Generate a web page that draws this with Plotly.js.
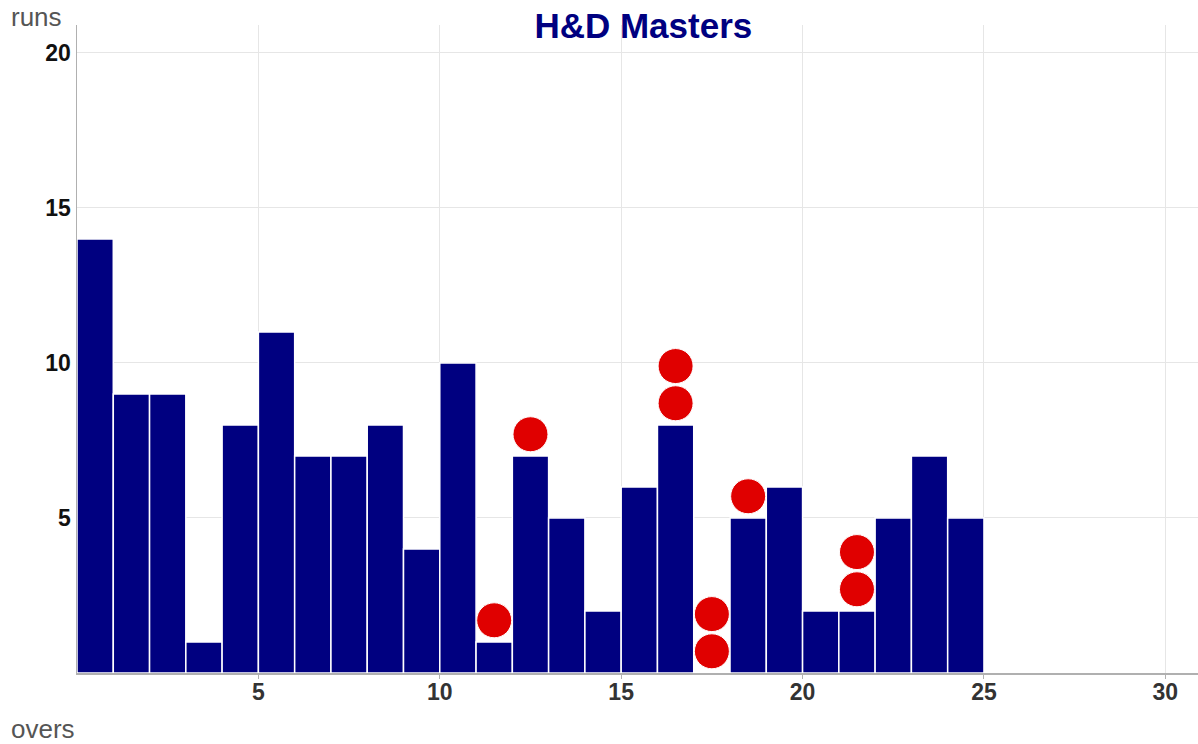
<!DOCTYPE html>
<html>
<head>
<meta charset="utf-8">
<script src="https://cdn.plot.ly/plotly-3.0.1.min.js"></script>
<style>html,body{margin:0;padding:0;background:#fff}#chart{width:1198px;height:744px}</style>
</head>
<body>
<div id="chart"></div>
<script>
// Runs per over
const overs = [0.5,1.5,2.5,3.5,4.5,5.5,6.5,7.5,8.5,9.5,10.5,11.5,12.5,13.5,14.5,15.5,16.5,17.5,18.5,19.5,20.5,21.5,22.5,23.5,24.5];
const runs = [14,9,9,1,8,11,7,7,8,4,10,1,7,5,2,6,8,0,5,6,2,2,5,7,5];
// Wickets (dots stacked above the over's bar)
const wicketOvers = [11.5,12.5,16.5,16.5,17.5,17.5,18.5,21.5,21.5];
const wicketY = [1.7,7.7,8.7,9.9,0.7,1.9,5.7,2.7,3.9];
const xTicks = [5,10,15,20,25,30];
const yTicks = [5,10,15,20];
const chartTitle = "H&D Masters";

const font = "Liberation Sans, Arial, Helvetica, sans-serif";

const traces = [
  {type:'bar', x:overs, y:runs, width:1,
   marker:{color:'#000080', line:{color:'#ffffff', width:1.5}},
   hoverinfo:'skip'},
  {type:'scatter', mode:'markers', x:wicketOvers, y:wicketY,
   marker:{color:'#e00000', size:35, line:{color:'#ffffff', width:1}},
   hoverinfo:'skip', cliponaxis:false}
];

const layout = {
  width:1198, height:744,
  margin:{l:77, r:0, t:25, b:71},
  paper_bgcolor:'#fff', plot_bgcolor:'#fff',
  showlegend:false,
  bargap:0,
  title:{text:'<b>'+chartTitle+'</b>', font:{family:font, size:35, color:'#000080'},
         x:0.537, xanchor:'center', y:0.965, yanchor:'middle'},
  xaxis:{range:[0,30.9], tickvals:xTicks, ticktext:xTicks.map(v=>'<b>'+v+'</b>'),
         showgrid:true, gridcolor:'#e6e6e6', gridwidth:1,
         showline:true, linecolor:'#b0b0b0', linewidth:1.5,
         ticks:'outside', ticklen:4, tickcolor:'#b0b0b0', ticklabelstandoff:-6,
         tickfont:{family:font, size:23, color:'#333'}, zeroline:false, fixedrange:true},
  yaxis:{range:[0,20.9], tickvals:yTicks, ticktext:yTicks.map(v=>'<b>'+v+'</b>'),
         showgrid:true, gridcolor:'#e6e6e6', gridwidth:1,
         showline:true, linecolor:'#b0b0b0', linewidth:1.5,
         ticks:'', ticklabelstandoff:0,
         tickfont:{family:font, size:23, color:'#111'}, zeroline:false, fixedrange:true},
  annotations:[
    {text:'runs', xref:'paper', yref:'paper', x:-77/1121, y:1, xanchor:'left', yanchor:'middle',
     showarrow:false, font:{family:font, size:26, color:'#555'}, xshift:9, yshift:8},
    {text:'overs', xref:'paper', yref:'paper', x:-77/1121, y:0, xanchor:'left', yanchor:'middle',
     showarrow:false, font:{family:font, size:26, color:'#555'}, xshift:9, yshift:-56}
  ]
};

Plotly.newPlot('chart', traces, layout, {displayModeBar:false, staticPlot:true});
</script>
</body>
</html>
